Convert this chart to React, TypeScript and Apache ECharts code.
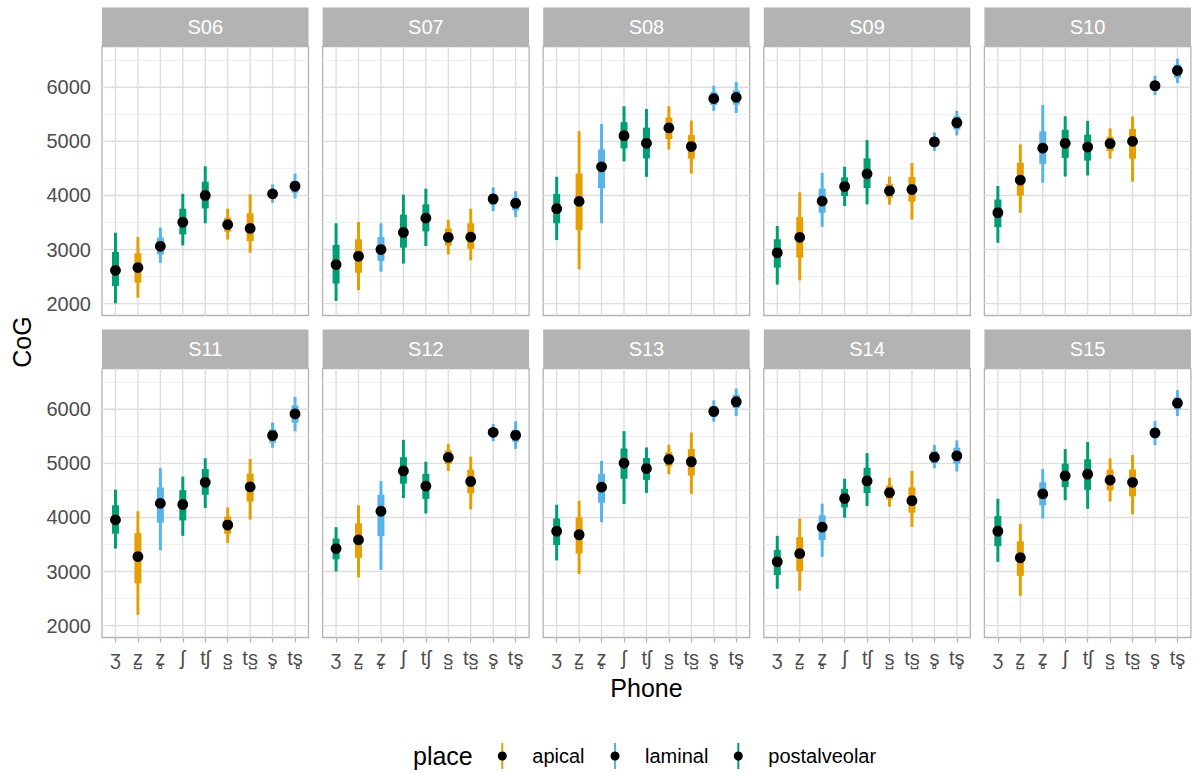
import { useEffect, useRef } from "react";
import * as echarts from "echarts";

// ---------- data ----------
const PHONES = ["ʒ", "z\u033A", "z\u033B", "ʃ", "tʃ", "s\u033A", "ts\u033A", "s\u033B", "ts\u033B"];
// 0 = apical, 1 = laminal, 2 = postalveolar
const PHONE_PLACE = [2, 0, 1, 2, 2, 0, 0, 1, 1];
const PLACES = ["apical", "laminal", "postalveolar"];
const PLACE_COLORS = ["#E69F00", "#56B4E9", "#009E73"];
const SPEAKERS = ["S06", "S07", "S08", "S09", "S10", "S11", "S12", "S13", "S14", "S15"];

// rows per phone: [median, lo95, hi95, lo66, hi66]
const S06 = [
  [2615, 2005, 3310, 2325, 2955], [2665, 2110, 3230, 2390, 2930], [3060, 2755, 3405, 2910, 3220],
  [3505, 3075, 4030, 3280, 3755], [4000, 3485, 4540, 3760, 4255], [3460, 3185, 3755, 3330, 3590],
  [3390, 2940, 4020, 3155, 3670], [4030, 3865, 4205, 3945, 4100], [4170, 3945, 4405, 4050, 4265],
];
const S07 = [
  [2720, 2050, 3485, 2370, 3085], [2875, 2250, 3510, 2570, 3190], [3000, 2590, 3485, 2790, 3230],
  [3315, 2740, 4015, 3035, 3645], [3580, 3065, 4125, 3335, 3835], [3225, 2910, 3550, 3075, 3390],
  [3230, 2800, 3755, 3015, 3485], [3935, 3710, 4150, 3830, 4030], [3855, 3600, 4080, 3725, 3960],
];
const S08 = [
  [3755, 3175, 4345, 3485, 4030], [3890, 2635, 5190, 3360, 4405], [4530, 3485, 5320, 4135, 4850],
  [5105, 4630, 5650, 4870, 5355], [4965, 4345, 5600, 4685, 5255], [5250, 4850, 5650, 5045, 5440],
  [4905, 4405, 5385, 4680, 5120], [5790, 5565, 6030, 5675, 5910], [5815, 5525, 6100, 5680, 5945],
];
const S09 = [
  [2940, 2350, 3435, 2665, 3190], [3225, 2430, 4060, 2850, 3600], [3895, 3420, 4420, 3680, 4125],
  [4165, 3805, 4530, 3990, 4335], [4400, 3835, 5025, 4135, 4685], [4085, 3830, 4350, 3960, 4215],
  [4110, 3555, 4600, 3885, 4340], [4990, 4825, 5165, 4900, 5080], [5345, 5110, 5565, 5220, 5465],
];
const S10 = [
  [3680, 3125, 4175, 3415, 3925], [4285, 3680, 4945, 4000, 4600], [4875, 4235, 5675, 4585, 5185],
  [4965, 4350, 5465, 4695, 5215], [4895, 4370, 5380, 4645, 5125], [4960, 4680, 5240, 4820, 5085],
  [5000, 4255, 5460, 4680, 5230], [6030, 5855, 6215, 5945, 6110], [6310, 6080, 6530, 6175, 6420],
];
const S11 = [
  [3955, 3425, 4515, 3700, 4225], [3275, 2200, 4115, 2780, 3710], [4260, 3395, 4910, 3905, 4555],
  [4240, 3660, 4755, 3945, 4505], [4650, 4175, 5095, 4420, 4895], [3860, 3530, 4185, 3700, 4015],
  [4565, 3960, 5080, 4295, 4810], [5515, 5290, 5755, 5385, 5630], [5915, 5595, 6230, 5755, 6070],
];
const S12 = [
  [3425, 3000, 3820, 3225, 3610], [3585, 2890, 4225, 3255, 3890], [4115, 3030, 4675, 3655, 4420],
  [4860, 4360, 5435, 4625, 5115], [4580, 4075, 5030, 4345, 4805], [5110, 4860, 5360, 4990, 5240],
  [4665, 4150, 5125, 4445, 4885], [5575, 5410, 5730, 5485, 5645], [5520, 5265, 5780, 5400, 5620],
];
const S13 = [
  [3745, 3205, 4235, 3490, 3980], [3680, 2955, 4310, 3335, 4000], [4560, 3915, 5045, 4270, 4805],
  [5005, 4250, 5595, 4715, 5275], [4905, 4455, 5295, 4695, 5100], [5075, 4800, 5345, 4945, 5205],
  [5030, 4435, 5570, 4775, 5265], [5960, 5770, 6165, 5865, 6060], [6140, 5875, 6385, 6025, 6270],
];
const S14 = [
  [3180, 2680, 3660, 2935, 3400], [3330, 2645, 3980, 3010, 3635], [3820, 3270, 4255, 3580, 4040],
  [4350, 3995, 4715, 4185, 4530], [4675, 4210, 5190, 4450, 4920], [4460, 4200, 4735, 4335, 4590],
  [4310, 3825, 4860, 4090, 4555], [5115, 4910, 5340, 5005, 5225], [5140, 4850, 5425, 4995, 5290],
];
const S15 = [
  [3745, 3180, 4345, 3470, 4025], [3255, 2550, 3880, 2920, 3560], [4435, 3980, 4895, 4225, 4650],
  [4770, 4320, 5265, 4560, 4995], [4800, 4160, 5395, 4510, 5075], [4690, 4295, 5095, 4505, 4885],
  [4650, 4060, 5155, 4390, 4885], [5565, 5340, 5785, 5465, 5655], [6115, 5875, 6355, 6000, 6220],
];
const SPEAKER_DATA = [S06, S07, S08, S09, S10, S11, S12, S13, S14, S15];

const Y_MIN = 1780;
const Y_MAX = 6755;
const Y_MAJOR = [2000, 3000, 4000, 5000, 6000];
const Y_MINOR = [2500, 3500, 4500, 5500, 6500];
const X_TICKS = [0, 1, 2, 3, 4, 5, 6, 7, 8];

// ---------- layout ----------
const FONT = "'Liberation Sans', Arial, Helvetica, sans-serif";
const PANEL_LEFT0 = 102;
const PANEL_STEP_X = 220.6;
const PANEL_W = 206.5;
const PANEL_H = 269;
const ROW_TOPS = [46.5, 368.5];
const STRIP_H = 39;
const GRID_MAJOR = "#DEDEDE";
const GRID_MINOR = "#EBEBEB";
const BORDER = "#B3B3B3";

export default function App() {
  const ref = useRef<HTMLDivElement>(null);

  useEffect(() => {
    if (!ref.current) return;
    const chart = echarts.init(ref.current, undefined, { renderer: "svg" });

    const grids: any[] = [];
    const xAxes: any[] = [];
    const yAxes: any[] = [];
    const series: any[] = [];
    const graphics: any[] = [];

    SPEAKERS.forEach((name, i) => {
      const col = i % 5;
      const row = Math.floor(i / 5);
      const left = PANEL_LEFT0 + col * PANEL_STEP_X;
      const top = ROW_TOPS[row];
      grids.push({
        left,
        top,
        width: PANEL_W,
        height: PANEL_H,
        show: true,
        borderColor: BORDER,
        borderWidth: 1.3,
        backgroundColor: "#fff",
        containLabel: false,
        outerBoundsMode: "none",
      });
      xAxes.push({
        gridIndex: i,
        type: "value",
        min: -0.6,
        max: 8.6,
        axisLine: { show: false },
        splitLine: { show: false },
        axisTick: {
          show: row === 1,
          customValues: X_TICKS,
          length: 5,
          lineStyle: { color: BORDER, width: 1.3 },
        },
        axisLabel: {
          show: row === 1,
          customValues: X_TICKS,
          formatter: (v: number) => PHONES[Math.round(v)],
          color: "#4D4D4D",
          fontSize: 20,
          fontFamily: FONT,
          margin: 10,
        },
      });
      yAxes.push({
        gridIndex: i,
        type: "value",
        min: Y_MIN,
        max: Y_MAX,
        axisLine: { show: false },
        splitLine: { show: false },
        axisTick: {
          show: col === 0,
          customValues: Y_MAJOR,
          length: 5,
          lineStyle: { color: BORDER, width: 1.3 },
        },
        axisLabel: {
          show: col === 0,
          customValues: Y_MAJOR,
          formatter: (v: number) => String(Math.round(v)),
          color: "#4D4D4D",
          fontSize: 20,
          fontFamily: FONT,
          margin: 11,
        },
      });

      // gridlines
      const hData = [
        ...Y_MINOR.map((v) => [0, v, 1]),
        ...Y_MAJOR.map((v) => [0, v, 0]),
      ];
      series.push({
        type: "custom",
        xAxisIndex: i,
        yAxisIndex: i,
        silent: true,
        z: 1,
        data: hData,
        renderItem: (params: any, api: any) => {
          const cs = params.coordSys;
          const y = api.coord([0, api.value(1)])[1];
          const minor = api.value(2) === 1;
          return {
            type: "line",
            shape: { x1: cs.x, y1: y, x2: cs.x + cs.width, y2: y },
            style: { stroke: minor ? GRID_MINOR : GRID_MAJOR, lineWidth: minor ? 0.8 : 1.4 },
          };
        },
      });
      series.push({
        type: "custom",
        xAxisIndex: i,
        yAxisIndex: i,
        silent: true,
        z: 1,
        data: X_TICKS.map((v) => [v, Y_MIN]),
        renderItem: (params: any, api: any) => {
          const cs = params.coordSys;
          const x = api.coord([api.value(0), Y_MIN])[0];
          return {
            type: "line",
            shape: { x1: x, y1: cs.y, x2: x, y2: cs.y + cs.height },
            style: { stroke: GRID_MAJOR, lineWidth: 1.4 },
          };
        },
      });

      // point intervals
      const rows = SPEAKER_DATA[i].map((r, k) => [k, r[0], r[1], r[2], r[3], r[4], PHONE_PLACE[k]]);
      series.push({
        type: "custom",
        xAxisIndex: i,
        yAxisIndex: i,
        z: 5,
        data: rows,
        renderItem: (_params: any, api: any) => {
          const x = api.value(0);
          const c = api.coord([x, api.value(1)]);
          const lo = api.coord([x, api.value(2)]);
          const hi = api.coord([x, api.value(3)]);
          const lo2 = api.coord([x, api.value(4)]);
          const hi2 = api.coord([x, api.value(5)]);
          const color = PLACE_COLORS[api.value(6)];
          return {
            type: "group",
            children: [
              { type: "line", shape: { x1: c[0], y1: lo[1], x2: c[0], y2: hi[1] }, style: { stroke: color, lineWidth: 3 } },
              { type: "line", shape: { x1: c[0], y1: lo2[1], x2: c[0], y2: hi2[1] }, style: { stroke: color, lineWidth: 7 } },
              { type: "circle", shape: { cx: c[0], cy: c[1], r: 5.4 }, style: { fill: "#000" } },
            ],
          };
        },
      });

      // strip
      graphics.push({
        type: "rect",
        shape: { x: left, y: top - STRIP_H, width: PANEL_W, height: STRIP_H },
        style: { fill: BORDER },
        silent: true,
      });
      graphics.push({
        type: "text",
        x: left + PANEL_W / 2,
        y: top - STRIP_H / 2,
        style: { text: name, fill: "#fff", fontSize: 20, fontFamily: FONT, align: "center", verticalAlign: "middle" },
        silent: true,
      });
    });

    // axis titles
    graphics.push({
      type: "text",
      x: 22,
      y: (ROW_TOPS[0] + ROW_TOPS[1] + PANEL_H) / 2,
      rotation: Math.PI / 2,
      style: { text: "CoG", fill: "#000", fontSize: 25, fontFamily: FONT, align: "center", verticalAlign: "middle" },
    });
    graphics.push({
      type: "text",
      x: PANEL_LEFT0 + (4 * PANEL_STEP_X + PANEL_W) / 2,
      y: 688,
      style: { text: "Phone", fill: "#000", fontSize: 25, fontFamily: FONT, align: "center", verticalAlign: "middle" },
    });

    // legend
    const LEG_Y = 756;
    graphics.push({
      type: "text",
      x: 413,
      y: LEG_Y,
      style: { text: "place", fill: "#000", fontSize: 25, fontFamily: FONT, align: "left", verticalAlign: "middle" },
    });
    const keyX = [502.3, 615, 738.3];
    const labelX = [532.3, 645, 768.3];
    PLACES.forEach((p, k) => {
      graphics.push({
        type: "line",
        shape: { x1: keyX[k], y1: LEG_Y - 13, x2: keyX[k], y2: LEG_Y + 13 },
        style: { stroke: PLACE_COLORS[k], lineWidth: 2 },
      });
      graphics.push({
        type: "circle",
        shape: { cx: keyX[k], cy: LEG_Y, r: 4.5 },
        style: { fill: "#000" },
      });
      graphics.push({
        type: "text",
        x: labelX[k],
        y: LEG_Y,
        style: { text: p, fill: "#000", fontSize: 20, fontFamily: FONT, align: "left", verticalAlign: "middle" },
      });
    });

    chart.setOption({
      animation: false,
      backgroundColor: "#fff",
      grid: grids,
      xAxis: xAxes,
      yAxis: yAxes,
      series,
      graphic: graphics,
    });

    return () => chart.dispose();
  }, []);

  return (
    <div
      ref={ref}
      style={{ position: "fixed", left: 0, top: 0, width: 1196, height: 773 }}
    />
  );
}
